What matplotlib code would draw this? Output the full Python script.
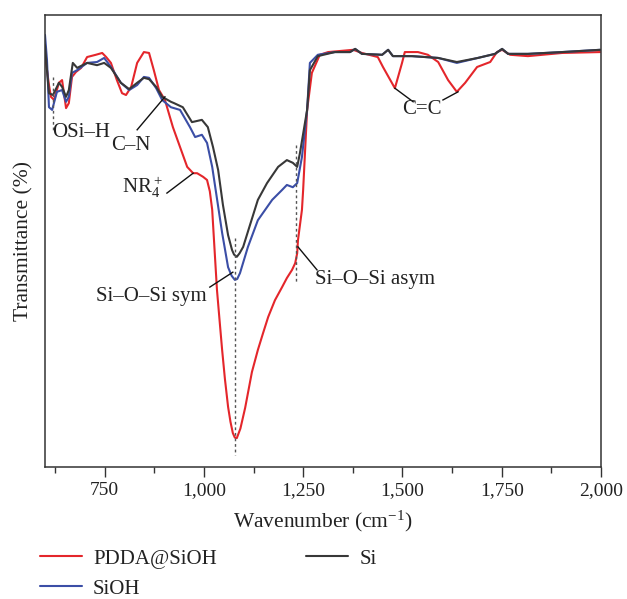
import matplotlib
matplotlib.use("Agg")
import matplotlib.pyplot as plt
from matplotlib.ticker import FuncFormatter

plt.rcParams['font.family'] = ['Liberation Serif', 'DejaVu Serif']
plt.rcParams['mathtext.fontset'] = 'custom'
plt.rcParams['mathtext.rm'] = 'Liberation Serif'
plt.rcParams['mathtext.it'] = 'Liberation Serif:italic'
plt.rcParams['mathtext.bf'] = 'Liberation Serif:bold'

# ---- data (wavenumber cm^-1, transmittance arbitrary %) ----
red_w = [600, 610, 615, 623, 635, 643, 653, 660, 668, 678, 691, 706, 728, 744, 754, 766,
         781, 794, 804, 817, 832, 849, 862, 874, 887, 902, 922, 940, 958, 973, 983, 998,
         1008, 1015, 1021, 1027, 1033, 1040, 1046, 1053, 1061, 1067, 1073, 1078, 1083,
         1092, 1104, 1121, 1136, 1149, 1162, 1179, 1197, 1209, 1222, 1230,
         1235, 1237, 1247, 1250, 1260, 1272, 1292, 1313, 1376, 1398, 1438, 1451, 1481,
         1499, 1506, 1539, 1564, 1590, 1615, 1637, 1658, 1688, 1721, 1738, 1751, 1771,
         1816, 1902, 1998]
red_t = [91.2, 84.5, 81.9, 81.2, 85.0, 85.6, 79.4, 80.5, 86.3, 87.4, 88.3, 90.7, 91.2,
         91.6, 90.7, 89.4, 85.6, 82.7, 82.3, 84.1, 89.4, 91.8, 91.6, 87.8, 83.4, 81.2,
         75.2, 70.8, 66.4, 65.0, 65.0, 64.2, 63.5, 61.0, 56.9, 48.0, 39.2, 32.0, 25.9,
         19.5, 13.3, 10.0, 7.5, 6.5, 6.4, 8.5, 13.1, 21.0, 25.9, 29.6, 33.2, 36.9, 39.8,
         41.8, 43.6, 45.1, 47.3, 50.2, 56.9, 61.3, 79.0, 87.2, 91.2, 91.8,
         92.3, 91.6, 90.7, 88.5, 83.8, 89.4, 91.8, 91.8, 91.2, 89.6, 85.6, 83.0, 85.0,
         88.5, 89.6, 91.8, 92.3, 91.2, 90.9, 91.6, 91.8]

blue_w = [600, 605, 610, 618, 630, 643, 653, 660, 668, 681, 706, 731, 749, 766, 791, 812,
          832, 849, 862, 880, 895, 917, 940, 965, 978, 995, 1008, 1021, 1046, 1061, 1070,
          1078, 1084, 1091, 1111, 1136, 1172, 1197, 1209, 1224, 1235, 1247, 1260, 1267,
          1287, 1330, 1368, 1381, 1398, 1449, 1464, 1476, 1524, 1590, 1637, 1690, 1733,
          1751, 1766, 1816, 1902, 1998]
blue_t = [95.6, 90.0, 79.6, 79.0, 83.0, 83.4, 80.8, 81.9, 87.2, 87.8, 89.4, 89.6, 90.5,
          88.5, 85.0, 83.4, 84.5, 86.3, 86.1, 83.8, 81.2, 79.6, 79.0, 75.2, 73.0, 73.5,
          71.7, 66.4, 51.8, 44.2, 42.3, 41.4, 41.6, 42.9, 48.7, 54.6, 59.1, 61.3, 62.4,
          61.9, 62.8, 68.6, 79.0, 89.4, 91.2, 91.8, 91.8, 92.5, 91.4, 91.2, 92.3, 90.9,
          90.9, 90.5, 89.4, 90.5, 91.4, 92.5, 91.4, 91.4, 91.8, 92.3]

black_w = [600, 605, 610, 620, 635, 643, 653, 660, 670, 681, 706, 731, 749, 766, 791, 812,
           832, 849, 862, 880, 895, 917, 925, 947, 970, 995, 1010, 1023, 1036, 1048, 1061,
           1071, 1076, 1083, 1090, 1099, 1116, 1136, 1159, 1187, 1209, 1224, 1235, 1242,
           1260, 1267, 1287, 1330, 1368, 1381, 1398, 1449, 1464, 1476, 1524, 1590, 1637,
           1690, 1733, 1751, 1766, 1816, 1902, 1998]
black_t = [93.4, 87.8, 82.7, 82.3, 85.0, 84.1, 81.9, 83.4, 89.4, 88.3, 89.4, 88.9, 89.4,
           88.3, 85.0, 83.6, 85.0, 86.1, 85.8, 84.1, 81.9, 80.8, 80.5, 79.6, 76.3, 76.8,
           75.2, 70.8, 65.7, 58.0, 51.3, 48.0, 47.0, 46.5, 47.3, 48.7, 53.5, 59.1, 62.8,
           66.4, 67.9, 67.3, 66.4, 69.5, 79.0, 87.8, 90.9, 91.8, 91.8, 92.5, 91.4, 91.2,
           92.3, 90.9, 90.9, 90.5, 89.6, 90.5, 91.4, 92.5, 91.4, 91.4, 91.8, 92.3]

series_labels = ['PDDA@SiOH', 'SiOH', 'Si']
series_colors = ['#e4262b', '#3b4ea6', '#383838']

xticks = [750, 1000, 1250, 1500, 1750, 2000]
xminor = [625, 875, 1125, 1375, 1625, 1875]

fig = plt.figure(figsize=(6.27, 5.99), dpi=100)
ax = fig.add_axes([45/627, 1 - 467/599, (601-45)/627, (467-15)/599])

lines = []
for w, t, lab, col in zip([red_w, blue_w, black_w], [red_t, blue_t, black_t],
                          series_labels, series_colors):
    ln, = ax.plot(w, t, color=col, lw=1.5, label=lab,
                  solid_joinstyle='round', solid_capstyle='round')
    lines.append(ln)

ax.set_xlim(600, 2000)
ax.set_ylim(0, 100)
ax.set_yticks([])
ax.set_xticks(xticks)
ax.set_xticks(xminor, minor=True)
ax.xaxis.set_major_formatter(FuncFormatter(lambda v, p: f"{int(v):,}"))
ax.tick_params(axis='x', which='major', length=7, width=1.0, labelsize=14, pad=4,
               color='#333333', labelcolor='#222222')
ax.tick_params(axis='x', which='minor', length=4, width=1.0, color='#333333')
for s in ax.spines.values():
    s.set_color('#333333')
    s.set_linewidth(1.1)

ax.set_xlabel('Wavenumber (cm$^{-1}$)', fontsize=15.5, labelpad=7, color='#222222')
ax.set_ylabel('Transmittance (%)', fontsize=15.5, labelpad=8, color='#222222')

# dashed guide lines
dkw = dict(color='#555555', lw=1.0, ls=(0, (2, 2)))
ax.plot([620, 620], [86.3, 74.6], **dkw)
ax.plot([1078, 1078], [50.7, 2.7], **dkw)
ax.plot([1232, 1232], [71.2, 40.9], **dkw)

# annotations
lkw = dict(color='#111111', lw=1.0)
tkw = dict(fontsize=15, color='#222222')
ax.text(619, 74.0, 'OSi–H', ha='left', va='center', **tkw)
ax.text(766, 71.2, 'C–N', ha='left', va='center', **tkw)
ax.plot([832, 902], [74.6, 81.9], **lkw)

ax.text(793, 62.0, 'NR$_4^+$', ha='left', va='center', **tkw)
ax.plot([907, 973], [60.6, 65.0], **lkw)

ax.text(1008, 37.8, 'Si–O–Si sym', ha='right', va='center', **tkw)
ax.plot([1015, 1073], [39.8, 43.1], **lkw)

ax.text(1280, 41.4, 'Si–O–Si asym', ha='left', va='center', **tkw)
ax.plot([1237, 1285], [48.7, 43.6], **lkw)

ax.text(1549, 79.0, 'C=C', ha='center', va='center', **tkw)
ax.plot([1527, 1481], [80.8, 83.8], **lkw)
ax.plot([1602, 1640], [81.2, 83.0], **lkw)

leg = fig.legend(handles=lines, labels=series_labels, ncol=2, loc='upper left',
                 bbox_to_anchor=(40/627, 1 - 549/599), frameon=False, fontsize=15,
                 handlelength=2.0, handletextpad=0.55, columnspacing=4.3,
                 labelspacing=0.5, borderpad=0, borderaxespad=0)
for t in leg.get_texts():
    t.set_color('#222222')

fig.savefig('out.png', dpi=100)
